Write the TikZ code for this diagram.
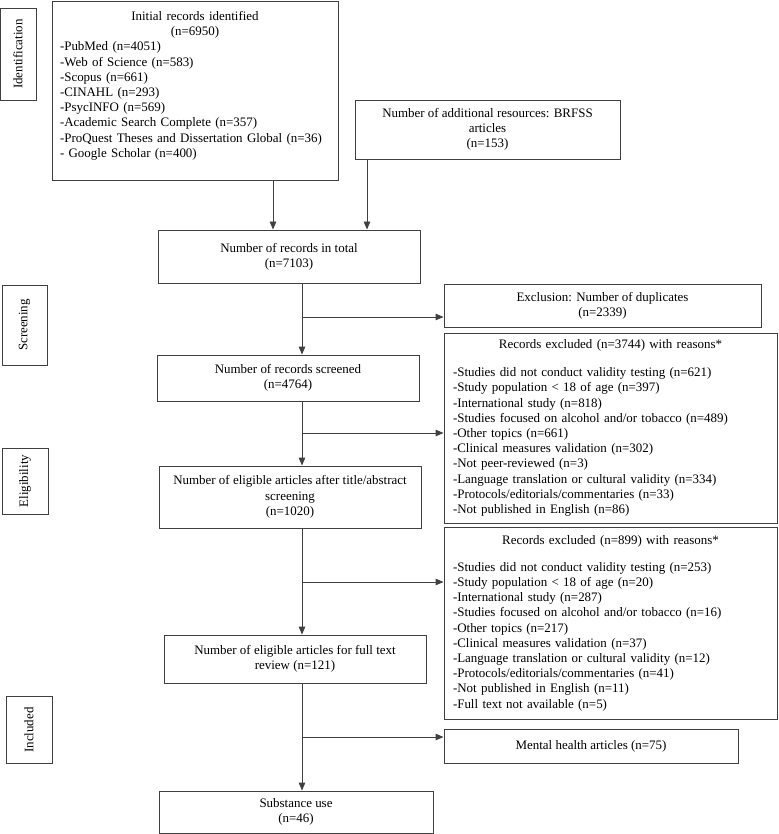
\documentclass[tikz,border=0pt]{standalone}
\usepackage{fontspec}
\setmainfont{Liberation Serif}
\usetikzlibrary{arrows.meta}

\begin{document}
\begin{tikzpicture}[x=1pt, y=-1pt,
  box/.style={draw=black!75, line width=0.9pt, inner xsep=9pt, inner ysep=4pt,
    font=\fontsize{12.95}{15.2}\selectfont},
  stage/.style={draw=black!75, line width=0.9pt, rotate=90, inner sep=0pt,
    font=\fontsize{12.95}{15.2}\selectfont},
  flow/.style={draw=black!75, line width=0.9pt, -{Triangle[length=8pt,width=6.5pt]}},
  link/.style={draw=black!75, line width=0.9pt}]

\useasboundingbox (0, 0) rectangle (778, 834);

% stage labels
\node [stage, minimum width=92pt, minimum height=36pt] (ident) at (18, 54)   {Identification};
\node [stage, minimum width=80pt, minimum height=45pt] (screen) at (24.5, 325) {Screening};
\node [stage, minimum width=66pt, minimum height=46pt] (elig) at (25, 481)   {Eligibility};
\node [stage, minimum width=67pt, minimum height=46pt] (incl) at (29, 730)   {Included};

% main column
\node [box, text width=270pt, minimum height=179pt, align=left, inner xsep=8pt] (initial) at (195, 90.5)
  {{\centering Initial records identified\\(n=6950)\par}
   -PubMed (n=4051)\\
   -Web of Science (n=583)\\
   -Scopus (n=661)\\
   -CINAHL (n=293)\\
   -PsycINFO (n=569)\\
   -Academic Search Complete (n=357)\\
   -ProQuest Theses and Dissertation Global (n=36)\\
   - Google Scholar (n=400)\\[-3pt]\mbox{}};
\node [box, minimum width=265pt, minimum height=59pt, align=center] (extra) at (487.5, 129.5)
  {Number of additional resources: BRFSS\\articles\\(n=153)};
\node [box, minimum width=262pt, minimum height=53pt, align=center] (total) at (289, 256.5)
  {Number of records in total\\(n=7103)};
\node [box, minimum width=262pt, minimum height=46pt, align=center] (screened) at (288, 378)
  {Number of records screened\\(n=4764)};
\node [box, minimum width=262pt, minimum height=62pt, align=center] (eligible) at (290, 497)
  {Number of eligible articles after title/abstract\\screening\\(n=1020)};
\node [box, minimum width=262pt, minimum height=48pt, align=center] (fulltext) at (295, 659)
  {Number of eligible articles for full text\\review (n=121)};
\node [box, minimum width=274pt, minimum height=42pt, align=center] (subst) at (296, 812)
  {Substance use\\(n=46)};

% side column
\node [box, minimum width=317pt, minimum height=43pt, align=center] (dup) at (602.5, 305.5)
  {Exclusion: Number of duplicates\\(n=2339)};
\node [box, text width=315pt, minimum height=190pt, align=left] (excl1) at (610.5, 428)
  {{\centering Records excluded (n=3744) with reasons*\par}\vspace{13pt}
   -Studies did not conduct validity testing (n=621)\\
   -Study population < 18 of age (n=397)\\
   -International study (n=818)\\
   -Studies focused on alcohol and/or tobacco (n=489)\\
   -Other topics (n=661)\\
   -Clinical measures validation (n=302)\\
   -Not peer-reviewed (n=3)\\
   -Language translation or cultural validity (n=334)\\
   -Protocols/editorials/commentaries (n=33)\\
   -Not published in English (n=86)};
\node [box, text width=315pt, minimum height=192pt, align=left] (excl2) at (610.5, 623)
  {{\centering Records excluded (n=899) with reasons*\par}\vspace{12pt}
   -Studies did not conduct validity testing (n=253)\\
   -Study population < 18 of age (n=20)\\
   -International study (n=287)\\
   -Studies focused on alcohol and/or tobacco (n=16)\\
   -Other topics (n=217)\\
   -Clinical measures validation (n=37)\\
   -Language translation or cultural validity (n=12)\\
   -Protocols/editorials/commentaries (n=41)\\
   -Not published in English (n=11)\\
   -Full text not available (n=5)};
\node [box, minimum width=294pt, minimum height=34pt, align=center] (mental) at (591, 746)
  {Mental health articles (n=75)};

% columns and branch points
\coordinate (col1) at (273, 0);
\coordinate (col2) at (367, 0);
\coordinate (trunk) at (302, 0);
\coordinate (br1) at (302, 317);
\coordinate (br2) at (302, 433);
\coordinate (br3) at (302, 582);
\coordinate (br4) at (302, 737);

\draw [flow] (initial.south -| col1) -- (total.north -| col1);
\draw [flow] (extra.south -| col2) -- (total.north -| col2);
\draw [flow] (total.south -| trunk) -- (screened.north -| trunk);
\draw [flow] (screened.south -| trunk) -- (eligible.north -| trunk);
\draw [flow] (eligible.south -| trunk) -- (fulltext.north -| trunk);
\draw [flow] (fulltext.south -| trunk) -- (subst.north -| trunk);

\draw [flow] (br1) -- (br1 -| dup.west);
\draw [flow] (br2) -- (br2 -| excl1.west);
\draw [flow] (br3) -- (br3 -| excl2.west);
\draw [flow] (br4) -- (br4 -| mental.west);
\end{tikzpicture}
\end{document}
